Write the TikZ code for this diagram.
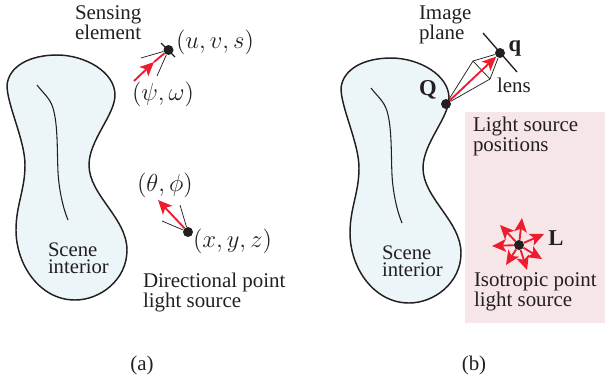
\documentclass[tikz,border=0pt]{standalone}
\usepackage{amsmath}
\usepackage{fontspec}
\setmainfont{Liberation Serif}
\usetikzlibrary{arrows.meta,calc}
\definecolor{scenecolor}{RGB}{236,246,248}
\definecolor{lightcolor}{RGB}{247,230,232}
\definecolor{raycolor}{RGB}{237,28,46}
\definecolor{inkcolor}{RGB}{35,31,32}

\newcommand{\mathlabel}[1]{\scalebox{1.54}{$#1$}}
\newcommand{\sceneblob}{
  \draw[blob] (7,85) .. controls (9,66) and (30,55) .. (57,55)
    .. controls (85,55) and (115,72) .. (115,95)
    .. controls (115,115) and (89,140) .. (89,165)
    .. controls (89,195) and (127,218) .. (127,250)
    .. controls (127,280) and (100,300) .. (75,300)
    .. controls (40,300) and (16,265) .. (16,230)
    .. controls (16,205) and (25,190) .. (25,165)
    .. controls (25,140) and (7,105) .. (7,85) -- cycle;
  \draw[crease] (37,85) .. controls (43,93) and (50,98) .. (53,108)
    .. controls (58,125) and (57,150) .. (58,172)
    .. controls (59,190) and (63,208) .. (68,220);
  \node[lab, font=\fontsize{15.5}{13}\selectfont] at (48,258) {Scene\\interior};
}

\begin{document}
\begin{tikzpicture}[
  x=0.75pt, y=-0.75pt,
  blob/.style={draw=inkcolor, line width=1.1pt, fill=scenecolor},
  crease/.style={draw=inkcolor, line width=0.8pt},
  lab/.style={inner sep=0pt, outer sep=0pt, text=inkcolor, align=left, anchor=west,
    font=\fontsize{15.7}{15}\selectfont},
  mathlab/.style={inner sep=0pt, outer sep=0pt, text=inkcolor, anchor=west, font=\fontsize{12}{14}\selectfont},
  boldlab/.style={lab, anchor=center, font=\fontsize{17}{20}\selectfont\bfseries},
  dot/.style={circle, fill=inkcolor, minimum size=7.5pt, inner sep=0pt},
  thin ray/.style={draw=inkcolor, line width=0.55pt},
  plane/.style={draw=inkcolor, line width=1pt},
  ray/.style={draw=raycolor, line width=1.4pt},
  ray tip/.style={draw=raycolor, line width=1.4pt,
    -{Stealth[length=10.5pt, width=9.5pt, inset=2.5pt]}}
]
\useasboundingbox (0,0) rectangle (605,380);

% -------- Light source region --------
\fill[lightcolor] (465,112) rectangle (605,323);

% -------- (a) Scene --------
\sceneblob

% -------- (a) Sensing element --------
\node[lab] at (75,23) {Sensing\\element};
\node[dot] (sensor) at (168.5,50) {};
\coordinate (planeA) at (161,43);
\coordinate (planeB) at (175,57);
\coordinate (coneA) at (141,58);
\coordinate (coneB) at (157,76);
\coordinate (rayStart) at (134,81);
\coordinate (rayTip) at (154,62);
\draw[plane] (planeA) -- (planeB);
\draw[thin ray] (sensor) -- (coneA);
\draw[thin ray] (sensor) -- (coneB);
\draw[ray] (rayTip) -- (sensor);
\draw[ray tip] (rayStart) -- (rayTip);
\node[mathlab] at (176,42) {\mathlabel{(u,v,s)}};
\node[mathlab] at (132,94) {\mathlabel{(\psi,\omega)}};

% -------- (a) Directional source --------
\node[dot] (source) at (188,232) {};
\coordinate (beamA) at (162,221);
\coordinate (beamB) at (180,205);
\coordinate (beamTip) at (158,200);
\draw[thin ray] (source) -- (beamA);
\draw[thin ray] (source) -- (beamB);
\draw[ray tip] (source) -- (beamTip);
\node[mathlab] at (137,185) {\mathlabel{(\theta,\phi)}};
\node[mathlab] at (193,241) {\mathlabel{(x,y,z)}};
\node[lab] at (143,292) {Directional point\\light source};
\node[lab, anchor=center] (caption a) at (142,365) {(a)};

% -------- (b) Scene --------
\begin{scope}[shift={(334,3)}]
\sceneblob
\end{scope}

% -------- (b) Camera --------
\node[lab] at (419,25) {Image\\plane};
\node[dot] (Q) at (446,104) {};
\node[dot] (q) at (500,53) {};
\coordinate (imageA) at (483,33);
\coordinate (imageB) at (517,72);
\coordinate (lensA) at (473,61);
\coordinate (lensB) at (490,79);
\draw[plane] (imageA) -- (imageB);
\draw[thin ray] (Q) -- (lensA) -- (q) -- (lensB) -- (Q);
\draw[thin ray] (lensA) -- (lensB);
\draw[ray tip] (Q) -- (q);
\node[boldlab] at (428,90) {Q};
\node[boldlab] at (515,48) {q};
\node[lab] at (497,85) {lens};

% -------- (b) Isotropic source --------
\node[lab] at (473,136) {Light source\\positions};
\node[dot] (L) at (519,245) {};
\foreach \tipname/\tippos in {t1/{492,246}, t2/{500,225}, t3/{522,218}, t4/{544,234},
                              t5/{542,259}, t6/{527,270}, t7/{506,265}} {
  \coordinate (\tipname) at (\tippos);
  \draw[ray tip] (L) -- (\tipname);
}
\node[boldlab] at (556,238) {L};
\node[lab] at (474,292) {Isotropic point\\light source};
\node[lab, anchor=center] (caption b) at (474,365) {(b)};

\end{tikzpicture}
\end{document}
